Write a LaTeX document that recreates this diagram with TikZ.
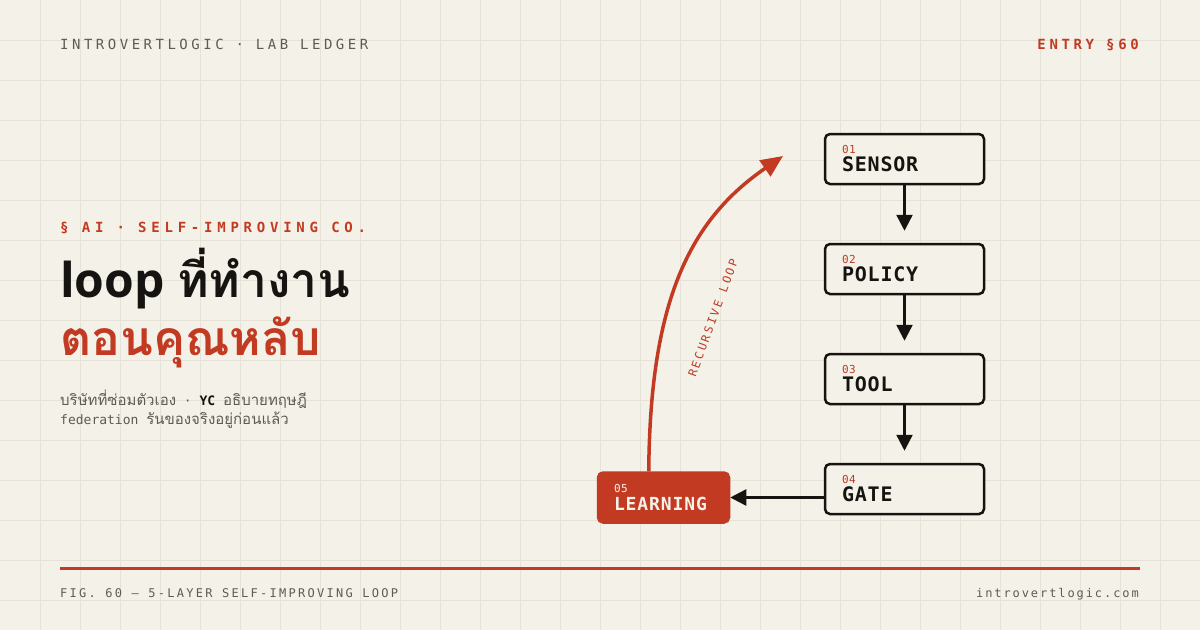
\documentclass[tikz,border=0pt]{standalone}
\usepackage{fontspec}
\usepackage{tikz}
\usetikzlibrary{arrows.meta,positioning,calc}
\setmainfont{Open Sans}
\setmonofont{DejaVu Sans Mono}
\newfontfamily\thaifont[Script=Thai]{Loma}
\newfontfamily\monofont{DejaVu Sans Mono}
\definecolor{paper}{HTML}{F4F1E9}
\definecolor{gridcol}{HTML}{E6E2D8}
\definecolor{accent}{HTML}{C23A22}
\definecolor{ink}{HTML}{151410}
\definecolor{muted}{HTML}{5F5B52}

\tikzset{
  stepbox/.style={draw=ink, line width=2.5pt, fill=paper, rounded corners=5pt,
    minimum width=159pt, minimum height=50pt, inner xsep=17pt, inner ysep=0pt,
    align=left, text width=125pt, font=\fontsize{20}{18}\selectfont\monofont, text=ink},
  hotbox/.style={stepbox, draw=accent, fill=accent, text=paper,
    minimum width=131pt, text width=99pt, inner xsep=15pt,
    font=\fontsize{18}{18}\selectfont\monofont},
  flow/.style={draw=ink, line width=2.5pt, -{Triangle[length=16pt,width=16pt]}},
  loopline/.style={draw=accent, line width=3.5pt, -{Triangle[length=22pt,width=19pt]}},
  gridline/.style={draw=gridcol, line width=1pt},
  kicker/.style={anchor=base west, inner sep=0pt},
}
\newcommand{\stepno}[1]{{\fontsize{11}{11}\selectfont\monofont\addfontfeature{LetterSpace=4}\color{accent}#1}}
\newcommand{\hotno}[1]{{\fontsize{11}{11}\selectfont\monofont\addfontfeature{LetterSpace=4}\color{paper}#1}}
\newcommand{\stepname}[1]{{\fontsize{20}{20}\selectfont\monofont\bfseries\addfontfeature{LetterSpace=4}#1}}
\newcommand{\hotname}[1]{{\fontsize{18}{18}\selectfont\monofont\bfseries\addfontfeature{LetterSpace=5}#1}}

\begin{document}
\begin{tikzpicture}[x=1pt, y=-1pt]
    % Paper and grid
    \fill[paper] (0,0) rectangle (1200,630);
    \useasboundingbox (0,0) rectangle (1200,630);
    \foreach \gx in {40,80,...,1160} {\draw[gridline] (\gx,0) -- (\gx,630);}
    \foreach \gy in {40,80,...,600} {\draw[gridline] (0,\gy) -- (1200,\gy);}

    % Header
    \node[kicker, text=muted, font=\fontsize{14}{14}\selectfont\monofont\addfontfeature{LetterSpace=25}] (brand) at (60,49) {INTROVERTLOGIC · LAB LEDGER};
    \node[anchor=base east, inner sep=0pt, text=accent, font=\fontsize{14}{14}\selectfont\monofont\bfseries\addfontfeature{LetterSpace=26}] (entry) at (1139,49) {ENTRY §60};

    % Left column
    \node[kicker, text=accent, font=\fontsize{14}{14}\selectfont\monofont\bfseries\addfontfeature{LetterSpace=34}] (tag) at (60,232) {§ AI · SELF-IMPROVING CO.};
    \node[kicker, text=ink, font=\fontsize{48}{48}\selectfont\bfseries] (title) at (60,297) {loop {\thaifont ที่ทำงาน}};
    \node[kicker, text=accent, font=\fontsize{48}{48}\selectfont\bfseries\thaifont] (title2) at (60,355) {ตอนคุณหลับ};
    \node[kicker, text=muted, font=\fontsize{13}{13}\selectfont\monofont] (sub1) at (60,405)
        {{\thaifont\fontsize{15}{15}\selectfont บริษัทที่ซ่อมตัวเอง} · {\bfseries\color{ink}YC} {\thaifont\fontsize{15}{15}\selectfont อธิบายทฤษฎี}};
    \node[kicker, text=muted, font=\fontsize{13}{13}\selectfont\monofont] (sub2) at (60,424)
        {federation {\thaifont\fontsize{15}{15}\selectfont รันของจริงอยู่ก่อนแล้ว}};

    % Pipeline
    \node[stepbox] (sensor) at (904.5,159) {\stepno{01}\\\stepname{SENSOR}};
    \node[stepbox] (policy) at (904.5,269) {\stepno{02}\\\stepname{POLICY}};
    \node[stepbox] (tool)   at (904.5,379) {\stepno{03}\\\stepname{TOOL}};
    \node[stepbox] (gate)   at (904.5,489) {\stepno{04}\\\stepname{GATE}};
    \node[hotbox]  (learn)  at (663.5,497.5) {\hotno{05}\\\hotname{LEARNING}};
    \coordinate (loopend) at (783,156);

    % Edges
    \draw[flow, shorten >=12pt] (sensor) -- (policy);
    \draw[flow, shorten >=12pt] (policy) -- (tool);
    \draw[flow, shorten >=12pt] (tool) -- (gate);
    \draw[flow] (gate.west |- learn.east) -- (learn.east);
    \draw[loopline] ($(learn.north west)+(52,0)$) .. controls (650,300) and (690,220) .. (loopend);
    \node[text=accent, rotate=70, font=\fontsize{11.5}{11.5}\selectfont\monofont\addfontfeature{LetterSpace=20}] (looplabel) at (713,318) {RECURSIVE LOOP};

    % Footer
    \coordinate (rulel) at (60,568);
    \coordinate (ruler) at (1140,568);
    \draw[accent, line width=3pt] (rulel) -- (ruler);
    \node[kicker, text=muted, font=\fontsize{12}{12}\selectfont\monofont\addfontfeature{LetterSpace=19}] (fig) at (60,597) {FIG. 60 — 5-LAYER SELF-IMPROVING LOOP};
    \node[anchor=base east, inner sep=0pt, text=muted, font=\fontsize{12}{12}\selectfont\monofont\addfontfeature{LetterSpace=16}] (site) at (1139,597) {introvertlogic.com};
\end{tikzpicture}
\end{document}
